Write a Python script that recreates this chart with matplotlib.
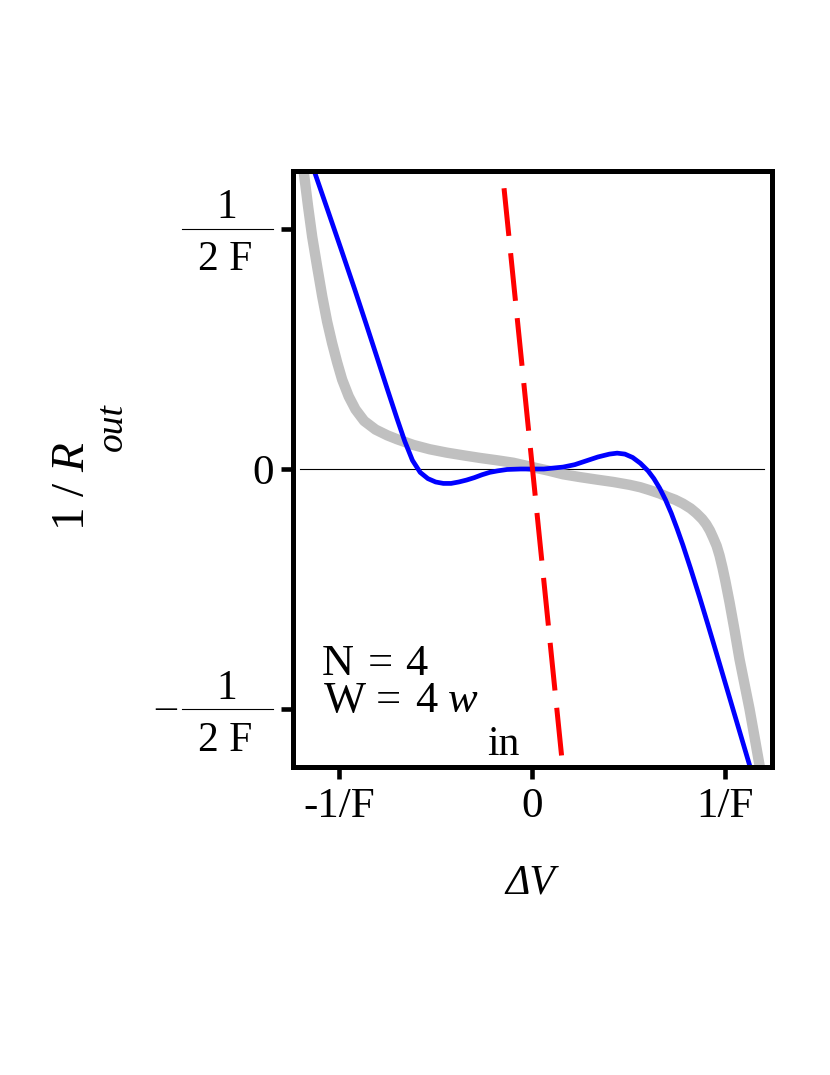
import matplotlib
matplotlib.use('Agg')
import matplotlib.pyplot as plt
from matplotlib import transforms

plt.rcParams['font.family'] = ['Liberation Serif', 'DejaVu Serif']
plt.rcParams['mathtext.fontset'] = 'custom'
plt.rcParams['mathtext.rm'] = 'Liberation Serif'
plt.rcParams['mathtext.it'] = 'Liberation Serif:italic'
plt.rcParams['mathtext.bf'] = 'Liberation Serif:bold'
plt.rcParams['lines.scale_dashes'] = False

# curves (x in units of 1/F, y in units of 1/F)
gray_x = [-1.185, -1.160, -1.139, -1.113, -1.087, -1.062, -1.036, -1.010, -0.984, -0.950,
          -0.915, -0.870, -0.811, -0.750, -0.700, -0.615, -0.530, -0.442, -0.350, -0.270,
          -0.180, -0.098, 0.0, 0.080, 0.160, 0.250, 0.333, 0.420, 0.505, 0.560,
          0.608, 0.660, 0.700, 0.740, 0.780, 0.820, 0.850, 0.880, 0.901, 0.920,
          0.937, 0.955, 0.970, 0.985, 1.000, 1.022, 1.048, 1.073, 1.100, 1.125,
          1.150, 1.183]
gray_y = [0.625, 0.545, 0.483, 0.420, 0.359, 0.307, 0.262, 0.222, 0.186, 0.151,
          0.124, 0.100, 0.082, 0.070, 0.062, 0.050, 0.041, 0.034, 0.028, 0.023,
          0.018, 0.013, 0.004, -0.003, -0.011, -0.017, -0.022, -0.027, -0.033, -0.038,
          -0.044, -0.051, -0.058, -0.064, -0.072, -0.082, -0.092, -0.104, -0.115, -0.128,
          -0.143, -0.160, -0.180, -0.205, -0.233, -0.278, -0.336, -0.395, -0.449, -0.499,
          -0.555, -0.630]

blue_x = [-1.133, -1.060, -0.990, -0.920, -0.860, -0.800, -0.750, -0.700, -0.660, -0.620,
          -0.580, -0.540, -0.500, -0.460, -0.420, -0.380, -0.340, -0.300, -0.260, -0.220,
          -0.180, -0.130, -0.060, 0.0, 0.060, 0.110, 0.160, 0.220, 0.280, 0.340,
          0.400, 0.440, 0.480, 0.520, 0.560, 0.600, 0.630, 0.660, 0.690, 0.720,
          0.750, 0.780, 0.820, 0.867, 0.910, 0.953, 1.039, 1.132]
blue_y = [0.625, 0.540, 0.458, 0.375, 0.302, 0.228, 0.166, 0.105, 0.058, 0.018,
          -0.007, -0.020, -0.027, -0.030, -0.030, -0.027, -0.023, -0.018, -0.012, -0.007,
          -0.004, -0.001, 0.0, 0.0, 0.0, 0.002, 0.004, 0.009, 0.017, 0.025,
          0.031, 0.033, 0.031, 0.024, 0.012, -0.004, -0.020, -0.040, -0.064, -0.092,
          -0.124, -0.158, -0.207, -0.267, -0.324, -0.382, -0.499, -0.625]

red_x = [0.152, -0.165]
red_y = [-0.596, 0.660]

zero_x = [-1.2, 1.2]
zero_y = [0, 0]

xtick_vals = [-1, 0, 1]
xtick_labels = ['-1/F', '0', '1/F']
ytick_vals = [-0.5, 0, 0.5]
ytick_labels = ['', '0', '']
frac_ticks = [0.5, -0.5]
frac_sign = ['', '\u2013']

W, H = 830, 1075


def fx(px):
    return px / W


def fy(py):
    return 1 - py / H


fig = plt.figure(figsize=(8.3, 10.75), dpi=100)
ax = fig.add_axes([fx(292.7), fy(767), (771.7 - 292.7) / W, (767 - 171) / H])

ax.plot(zero_x, zero_y, color='black', lw=0.8)
ax.plot(gray_x, gray_y, color='#c0c0c0', lw=7.5, solid_joinstyle='round')
ax.plot(blue_x, blue_y, color='#0000ff', lw=3.4, solid_joinstyle='round')
ax.plot(red_x, red_y, color='#ff0000', lw=3.6, dashes=[34.5, 12.5])

ax.set_xlim(-1.24, 1.24)
ax.set_ylim(-0.62, 0.62)
ax.set_xticks(xtick_vals, xtick_labels, fontsize=31)
ax.set_yticks(ytick_vals, ytick_labels, fontsize=31)
ax.tick_params(direction='out', length=8.5, width=3.3)
ax.tick_params(axis='x', pad=6)
ax.tick_params(axis='y', pad=5)
for s in ax.spines.values():
    s.set_linewidth(3.6)

# fraction tick labels 1/(2F), stacked as in the original
trans = transforms.blended_transform_factory(fig.transFigure, ax.transData)
for v, sign in zip(frac_ticks, frac_sign):
    ax.plot([fx(182), fx(273)], [v, v], transform=trans, clip_on=False, color='black', lw=0.8)
    ax.annotate('1', xy=(fx(227), v), xycoords=trans, xytext=(0, 7.5), textcoords='offset points',
                ha='center', va='baseline', fontsize=30, annotation_clip=False)
    ax.annotate('2 F', xy=(fx(225), v), xycoords=trans, xytext=(0, -30), textcoords='offset points',
                ha='center', va='baseline', fontsize=30, annotation_clip=False)
    if sign:
        ax.annotate(sign, xy=(fx(166), v), xycoords=trans, xytext=(0, -7), textcoords='offset points',
                    ha='center', va='baseline', fontsize=30, annotation_clip=False)

# axis labels, placed like the original typeset output
fig.text(fx(84), fy(531), r'$1\ /\ R$', rotation=90, rotation_mode='anchor',
         ha='left', va='baseline', fontsize=34)
fig.text(fx(121.7), fy(451), 'out', style='italic', rotation=90, rotation_mode='anchor',
         ha='left', va='baseline', fontsize=27)
fig.text(fx(530), fy(893), 'ΔV', style='italic', ha='center', va='baseline', fontsize=30)

# annotation
pieces = [
    ('N', 322, 675, 32, 'normal'),
    ('=', 368, 675, 32, 'normal'),
    ('4', 405, 675, 32, 'normal'),
    ('W', 324, 711.7, 32, 'normal'),
    ('=', 376, 711.7, 32, 'normal'),
    ('4', 415, 711.7, 32, 'normal'),
    ('w', 448, 711.7, 32, 'italic'),
    ('in', 487, 755, 30, 'normal'),
]
for txt, x, y, size, style in pieces:
    fig.text(fx(x), fy(y), txt, ha='left', va='baseline', fontsize=size, style=style)

fig.savefig('out.png', dpi=100)
